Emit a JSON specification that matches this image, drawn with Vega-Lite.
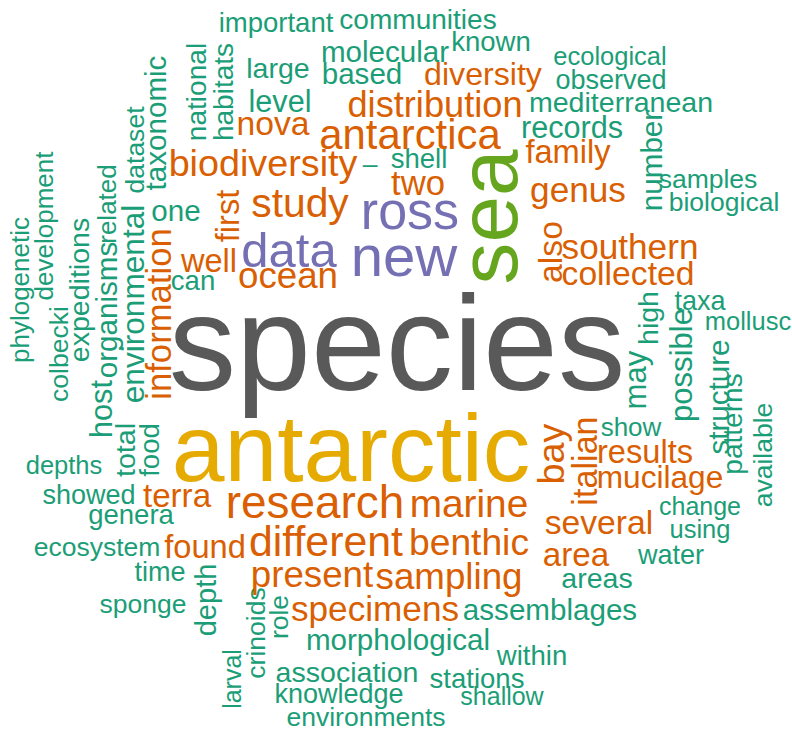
{
  "$schema": "https://vega.github.io/schema/vega-lite/v6.json",
  "width": 792,
  "height": 731,
  "autosize": "none",
  "padding": 0,
  "background": "white",
  "config": {"view": {"stroke": null}},
  "data": {"values": [
    {"word": "important", "x": 276, "y": 24, "freq": 27, "tier": "t1", "dir": "h"},
    {"word": "communities", "x": 418, "y": 21, "freq": 27.5, "tier": "t1", "dir": "h"},
    {"word": "known", "x": 491, "y": 43, "freq": 27, "tier": "t1", "dir": "h"},
    {"word": "molecular", "x": 385, "y": 53, "freq": 29, "tier": "t1", "dir": "h"},
    {"word": "large", "x": 278, "y": 69, "freq": 28, "tier": "t1", "dir": "h"},
    {"word": "based", "x": 362, "y": 75, "freq": 29, "tier": "t1", "dir": "h"},
    {"word": "ecological", "x": 610, "y": 57, "freq": 25, "tier": "t1", "dir": "h"},
    {"word": "observed", "x": 611, "y": 81, "freq": 26.5, "tier": "t1", "dir": "h"},
    {"word": "mediterranean", "x": 621, "y": 103, "freq": 28, "tier": "t1", "dir": "h"},
    {"word": "level", "x": 280, "y": 103, "freq": 30, "tier": "t1", "dir": "h"},
    {"word": "records", "x": 572, "y": 129, "freq": 30, "tier": "t1", "dir": "h"},
    {"word": "number", "x": 653, "y": 161, "freq": 29, "tier": "t1", "dir": "v"},
    {"word": "samples", "x": 708, "y": 180, "freq": 26, "tier": "t1", "dir": "h"},
    {"word": "biological", "x": 724, "y": 203, "freq": 26, "tier": "t1", "dir": "h"},
    {"word": "national", "x": 198, "y": 92, "freq": 27.5, "tier": "t1", "dir": "v"},
    {"word": "habitats", "x": 225, "y": 92, "freq": 27.5, "tier": "t1", "dir": "v"},
    {"word": "taxonomic", "x": 157, "y": 123, "freq": 29, "tier": "t1", "dir": "v"},
    {"word": "dataset", "x": 136, "y": 150, "freq": 26, "tier": "t1", "dir": "v"},
    {"word": "related", "x": 108, "y": 204, "freq": 25.5, "tier": "t1", "dir": "v"},
    {"word": "development", "x": 45, "y": 226, "freq": 25.5, "tier": "t1", "dir": "v"},
    {"word": "phylogenetic", "x": 21, "y": 290, "freq": 25.5, "tier": "t1", "dir": "v"},
    {"word": "expeditions", "x": 80, "y": 290, "freq": 28, "tier": "t1", "dir": "v"},
    {"word": "colbecki", "x": 60, "y": 354, "freq": 26, "tier": "t1", "dir": "v"},
    {"word": "organisms", "x": 108, "y": 310, "freq": 29, "tier": "t1", "dir": "v"},
    {"word": "host", "x": 103, "y": 409, "freq": 30, "tier": "t1", "dir": "v"},
    {"word": "environmental", "x": 135, "y": 304, "freq": 31, "tier": "t1", "dir": "v"},
    {"word": "one", "x": 176, "y": 212, "freq": 29, "tier": "t1", "dir": "h"},
    {"word": "–", "x": 370, "y": 165, "freq": 26, "tier": "t1", "dir": "h"},
    {"word": "shell", "x": 419, "y": 160, "freq": 27, "tier": "t1", "dir": "h"},
    {"word": "can", "x": 193, "y": 282, "freq": 27, "tier": "t1", "dir": "h"},
    {"word": "taxa", "x": 700, "y": 302, "freq": 26.5, "tier": "t1", "dir": "h"},
    {"word": "mollusc", "x": 748, "y": 322, "freq": 25, "tier": "t1", "dir": "h"},
    {"word": "high", "x": 649, "y": 318, "freq": 28, "tier": "t1", "dir": "v"},
    {"word": "may", "x": 637, "y": 380, "freq": 30.5, "tier": "t1", "dir": "v"},
    {"word": "possible", "x": 683, "y": 365, "freq": 30.5, "tier": "t1", "dir": "v"},
    {"word": "structure", "x": 720, "y": 397, "freq": 29, "tier": "t1", "dir": "v"},
    {"word": "patterns", "x": 734, "y": 424, "freq": 27.5, "tier": "t1", "dir": "v"},
    {"word": "available", "x": 764, "y": 455, "freq": 26, "tier": "t1", "dir": "v"},
    {"word": "show", "x": 631, "y": 428, "freq": 25.5, "tier": "t1", "dir": "h"},
    {"word": "change", "x": 700, "y": 508, "freq": 24.5, "tier": "t1", "dir": "h"},
    {"word": "using", "x": 700, "y": 530, "freq": 25, "tier": "t1", "dir": "h"},
    {"word": "water", "x": 671, "y": 556, "freq": 26.5, "tier": "t1", "dir": "h"},
    {"word": "areas", "x": 597, "y": 579, "freq": 28, "tier": "t1", "dir": "h"},
    {"word": "assemblages", "x": 550, "y": 611, "freq": 29, "tier": "t1", "dir": "h"},
    {"word": "within", "x": 532, "y": 657, "freq": 27, "tier": "t1", "dir": "h"},
    {"word": "shallow", "x": 502, "y": 698, "freq": 24.5, "tier": "t1", "dir": "h"},
    {"word": "stations", "x": 477, "y": 680, "freq": 27, "tier": "t1", "dir": "h"},
    {"word": "environments", "x": 366, "y": 718, "freq": 26, "tier": "t1", "dir": "h"},
    {"word": "knowledge", "x": 339, "y": 695, "freq": 26.5, "tier": "t1", "dir": "h"},
    {"word": "association", "x": 347, "y": 673, "freq": 28, "tier": "t1", "dir": "h"},
    {"word": "morphological", "x": 398, "y": 641, "freq": 29, "tier": "t1", "dir": "h"},
    {"word": "role", "x": 280, "y": 617, "freq": 26, "tier": "t1", "dir": "v"},
    {"word": "showed", "x": 89, "y": 496, "freq": 26.5, "tier": "t1", "dir": "h"},
    {"word": "genera", "x": 131, "y": 516, "freq": 27, "tier": "t1", "dir": "h"},
    {"word": "ecosystem", "x": 97, "y": 548, "freq": 26, "tier": "t1", "dir": "h"},
    {"word": "time", "x": 160, "y": 573, "freq": 26.5, "tier": "t1", "dir": "h"},
    {"word": "sponge", "x": 143, "y": 605, "freq": 26, "tier": "t1", "dir": "h"},
    {"word": "depth", "x": 207, "y": 600, "freq": 28.5, "tier": "t1", "dir": "v"},
    {"word": "larval", "x": 234, "y": 679, "freq": 24.5, "tier": "t1", "dir": "v"},
    {"word": "crinoids", "x": 257, "y": 633, "freq": 26, "tier": "t1", "dir": "v"},
    {"word": "depths", "x": 64, "y": 466, "freq": 25, "tier": "t1", "dir": "h"},
    {"word": "total", "x": 126, "y": 450, "freq": 28, "tier": "t1", "dir": "v"},
    {"word": "food", "x": 151, "y": 450, "freq": 27, "tier": "t1", "dir": "v"},
    {"word": "diversity", "x": 483, "y": 75, "freq": 31.5, "tier": "t2", "dir": "h"},
    {"word": "distribution", "x": 435, "y": 106, "freq": 35.5, "tier": "t2", "dir": "h"},
    {"word": "nova", "x": 273, "y": 125, "freq": 33, "tier": "t2", "dir": "h"},
    {"word": "antarctica", "x": 410, "y": 136, "freq": 41, "tier": "t2", "dir": "h"},
    {"word": "family", "x": 568, "y": 153, "freq": 32, "tier": "t2", "dir": "h"},
    {"word": "genus", "x": 578, "y": 191, "freq": 34.5, "tier": "t2", "dir": "h"},
    {"word": "southern", "x": 630, "y": 248, "freq": 34.5, "tier": "t2", "dir": "h"},
    {"word": "also", "x": 552, "y": 252, "freq": 33, "tier": "t2", "dir": "v"},
    {"word": "collected", "x": 628, "y": 275, "freq": 33, "tier": "t2", "dir": "h"},
    {"word": "information", "x": 161, "y": 314, "freq": 34, "tier": "t2", "dir": "v"},
    {"word": "biodiversity", "x": 263, "y": 165, "freq": 37, "tier": "t2", "dir": "h"},
    {"word": "two", "x": 418, "y": 185, "freq": 34, "tier": "t2", "dir": "h"},
    {"word": "first", "x": 229, "y": 216, "freq": 32, "tier": "t2", "dir": "v"},
    {"word": "study", "x": 300, "y": 205, "freq": 40, "tier": "t2", "dir": "h"},
    {"word": "ocean", "x": 288, "y": 277, "freq": 36, "tier": "t2", "dir": "h"},
    {"word": "well", "x": 209, "y": 262, "freq": 32, "tier": "t2", "dir": "h"},
    {"word": "results", "x": 645, "y": 453, "freq": 32, "tier": "t2", "dir": "h"},
    {"word": "italian", "x": 587, "y": 461, "freq": 33.5, "tier": "t2", "dir": "v"},
    {"word": "bay", "x": 553, "y": 454, "freq": 37, "tier": "t2", "dir": "v"},
    {"word": "mucilage", "x": 660, "y": 479, "freq": 31, "tier": "t2", "dir": "h"},
    {"word": "several", "x": 599, "y": 524, "freq": 33, "tier": "t2", "dir": "h"},
    {"word": "area", "x": 576, "y": 556, "freq": 32.5, "tier": "t2", "dir": "h"},
    {"word": "specimens", "x": 375, "y": 610, "freq": 34.5, "tier": "t2", "dir": "h"},
    {"word": "present", "x": 312, "y": 576, "freq": 36, "tier": "t2", "dir": "h"},
    {"word": "sampling", "x": 449, "y": 578, "freq": 36, "tier": "t2", "dir": "h"},
    {"word": "different", "x": 326, "y": 543, "freq": 42, "tier": "t2", "dir": "h"},
    {"word": "benthic", "x": 469, "y": 544, "freq": 36.5, "tier": "t2", "dir": "h"},
    {"word": "research", "x": 315, "y": 504, "freq": 45, "tier": "t2", "dir": "h"},
    {"word": "marine", "x": 469, "y": 505, "freq": 38, "tier": "t2", "dir": "h"},
    {"word": "terra", "x": 177, "y": 497, "freq": 32.5, "tier": "t2", "dir": "h"},
    {"word": "found", "x": 205, "y": 548, "freq": 32, "tier": "t2", "dir": "h"},
    {"word": "ross", "x": 410, "y": 213, "freq": 51, "tier": "t3", "dir": "h"},
    {"word": "data", "x": 289, "y": 252, "freq": 48, "tier": "t3", "dir": "h"},
    {"word": "new", "x": 404, "y": 259, "freq": 57, "tier": "t3", "dir": "h"},
    {"word": "sea", "x": 492, "y": 217, "freq": 82, "tier": "t4", "dir": "v"},
    {"word": "antarctic", "x": 351, "y": 453, "freq": 93, "tier": "t5", "dir": "h"},
    {"word": "species", "x": 397, "y": 350, "freq": 132, "tier": "t6", "dir": "h"}
  ]},
  "mark": {"type": "text", "font": "Liberation Sans", "align": "center", "baseline": "middle"},
  "encoding": {
    "x": {"field": "x", "type": "quantitative", "axis": null, "scale": {"domain": [0, 792], "nice": false, "zero": false}},
    "y": {"field": "y", "type": "quantitative", "axis": null, "scale": {"domain": [0, 731], "nice": false, "zero": false, "reverse": true}},
    "text": {"field": "word", "type": "nominal"},
    "size": {"field": "freq", "type": "quantitative", "legend": null, "scale": {"domain": [0, 100], "range": [0, 102]}},
    "color": {"field": "tier", "type": "nominal", "legend": null, "scale": {"domain": ["t1", "t2", "t3", "t4", "t5", "t6"], "range": ["#1B9E77", "#D95F02", "#7570B3", "#66A61E", "#E6AB02", "#595959"]}},
    "angle": {"field": "dir", "type": "nominal", "legend": null, "scale": {"domain": ["h", "v"], "range": [0, 270]}}
  }
}
